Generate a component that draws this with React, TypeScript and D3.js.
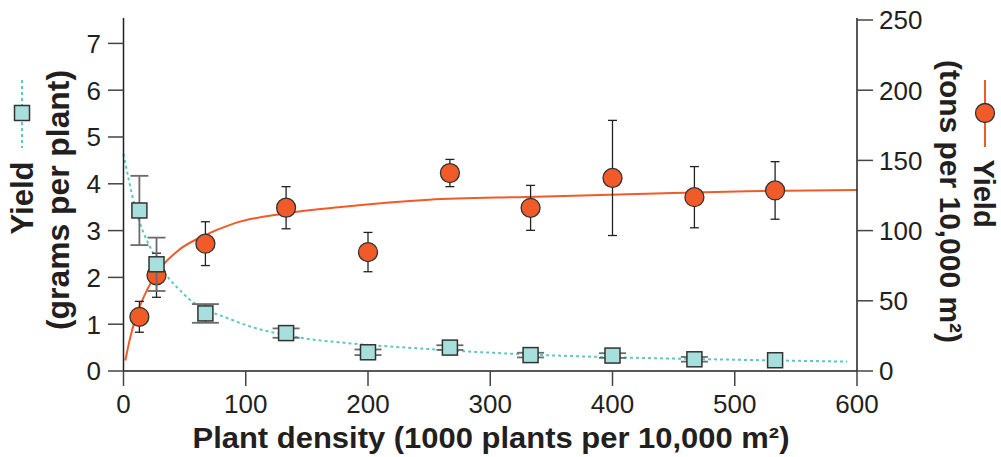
import React from "react";
import * as d3 from "d3";

// measured plant density (1000 plants per 10,000 m²)
const DENSITY = [13, 27, 67, 133, 200, 267, 333, 400, 467, 533];
// yield per plant (grams) and its error
const GRAMS = [3.43, 2.28, 1.23, 0.81, 0.4, 0.5, 0.34, 0.33, 0.25, 0.23];
const GRAMS_ERR = [0.74, 0.57, 0.2, 0.1, 0.06, 0.05, 0.05, 0.05, 0.05, 0];
// yield per area (tons per 10,000 m²) and its error
const TONS = [38.6, 68.2, 90.7, 116.3, 84.7, 141.0, 116.2, 137.5, 123.8, 128.6];
const TONS_ERR = [11, 15.7, 15.6, 15, 14, 9.7, 16, 41, 21.8, 20.5];

// fitted curves
const FIT_GRAMS_X = [0, 9, 26, 49, 90, 145, 186, 243, 325, 406, 482, 592];
const FIT_GRAMS_Y = [4.64, 3.55, 2.43, 1.65, 1.08, 0.71, 0.59, 0.48, 0.36, 0.29, 0.25, 0.2];
const FIT_TONS_X = [1.5, 5, 10, 20, 30, 45, 65, 90, 130, 180, 250, 330, 420, 510, 600];
const FIT_TONS_Y = [7.5, 22, 38, 59, 73, 86, 96, 105, 112, 117, 122, 124, 126, 128, 129];

const X_TICKS = [0, 100, 200, 300, 400, 500, 600];
const LEFT_TICKS = [0, 1, 2, 3, 4, 5, 6, 7];
const RIGHT_TICKS = [0, 50, 100, 150, 200, 250];

const ORANGE = "#F15A29";
const TEAL_FILL = "#A6DFDC";
const TEAL_LINE = "#5CC8C2";
const INK = "#231f20";
const FONT = "'Liberation Sans', Arial, Helvetica, sans-serif";

const App = () => {
  const x = d3.scaleLinear().domain([0, 600]).range([123.5, 857]);
  const yL = d3.scaleLinear().domain([0, 7.5]).range([371, 20]);
  const yR = d3.scaleLinear().domain([0, 250]).range([371, 20]);

  const gramsLine = d3
    .line<number>()
    .x((_, i) => x(FIT_GRAMS_X[i]))
    .y((d) => yL(d))
    .curve(d3.curveMonotoneX);
  const tonsLine = d3
    .line<number>()
    .x((_, i) => x(FIT_TONS_X[i]))
    .y((d) => yR(d))
    .curve(d3.curveMonotoneX);

  const sq = 15;

  return (
    <svg
      width={1001}
      height={457}
      style={{ position: "absolute", left: 0, top: 0, background: "#fff" }}
      fontFamily={FONT}
    >
      {/* fit lines */}
      <path
        d={gramsLine(FIT_GRAMS_Y) || ""}
        fill="none"
        stroke={TEAL_LINE}
        strokeWidth={2}
        strokeDasharray="3,3"
      />
      <path d={tonsLine(FIT_TONS_Y) || ""} fill="none" stroke={ORANGE} strokeWidth={2} />

      {/* tons series */}
      {DENSITY.map((d, i) => {
        const cx = x(d);
        const top = yR(TONS[i] + TONS_ERR[i]);
        const bot = yR(TONS[i] - TONS_ERR[i]);
        return (
          <g key={"t" + i}>
            <line x1={cx} x2={cx} y1={top} y2={bot} stroke="#222" strokeWidth={1.3} />
            <line x1={cx - 4.5} x2={cx + 4.5} y1={top} y2={top} stroke="#222" strokeWidth={1.3} />
            <line x1={cx - 4.5} x2={cx + 4.5} y1={bot} y2={bot} stroke="#222" strokeWidth={1.3} />
            <circle cx={cx} cy={yR(TONS[i])} r={9.5} fill={ORANGE} stroke="#333" strokeWidth={1.3} />
          </g>
        );
      })}

      {/* grams series */}
      {DENSITY.map((d, i) => {
        const cx = x(d);
        const top = yL(GRAMS[i] + GRAMS_ERR[i]);
        const bot = yL(GRAMS[i] - GRAMS_ERR[i]);
        const half = bot - top > 24 ? 9 : 13.5;
        return (
          <g key={"g" + i}>
            {GRAMS_ERR[i] > 0 && (
              <g stroke="#6b6b6b" strokeWidth={1.8}>
                <line x1={cx} x2={cx} y1={top} y2={bot} />
                <line x1={cx - half} x2={cx + half} y1={top} y2={top} />
                <line x1={cx - half} x2={cx + half} y1={bot} y2={bot} />
              </g>
            )}
            <rect
              x={cx - sq / 2}
              y={yL(GRAMS[i]) - sq / 2}
              width={sq}
              height={sq}
              fill={TEAL_FILL}
              stroke="#333"
              strokeWidth={1.5}
            />
          </g>
        );
      })}

      {/* axes */}
      <g stroke={INK} strokeWidth={1.5}>
        <line x1={123.5} x2={123.5} y1={18} y2={371} />
        <line x1={857} x2={857} y1={18} y2={371} />
        <line x1={123.5} x2={857} y1={371} y2={371} />
      </g>
      {LEFT_TICKS.map((t) => (
        <g key={"l" + t}>
          <line x1={108} x2={123.5} y1={yL(t)} y2={yL(t)} stroke="#444" strokeWidth={1.5} />
          <text x={101} y={yL(t)} dy="0.36em" textAnchor="end" fontSize={26} fill={INK}>
            {t}
          </text>
        </g>
      ))}
      {RIGHT_TICKS.map((t) => (
        <g key={"r" + t}>
          <line x1={857} x2={873} y1={yR(t)} y2={yR(t)} stroke="#444" strokeWidth={1.5} />
          <text x={879} y={yR(t)} dy="0.36em" textAnchor="start" fontSize={26} fill={INK}>
            {t}
          </text>
        </g>
      ))}
      {X_TICKS.map((t) => (
        <g key={"x" + t}>
          <line x1={x(t)} x2={x(t)} y1={371} y2={386} stroke="#444" strokeWidth={1.5} />
          <text x={x(t)} y={413} textAnchor="middle" fontSize={26} fill={INK}>
            {t}
          </text>
        </g>
      ))}

      {/* axis titles */}
      <text
        x={491}
        y={448}
        textAnchor="middle"
        fontSize={29}
        fontWeight="bold"
        fill={INK}
        textLength={597}
        lengthAdjust="spacingAndGlyphs"
      >
        Plant density (1000 plants per 10,000 m²)
      </text>

      <text
        transform="translate(33,198) rotate(-90)"
        textAnchor="middle"
        fontSize={31}
        fontWeight="bold"
        fill={INK}
      >
        Yield
      </text>
      <text
        transform="translate(68.5,200) rotate(-90)"
        textAnchor="middle"
        fontSize={31}
        fontWeight="bold"
        fill={INK}
        textLength={260}
        lengthAdjust="spacingAndGlyphs"
      >
        (grams per plant)
      </text>
      <line x1={22} x2={22} y1={80} y2={148} stroke={TEAL_LINE} strokeWidth={2} strokeDasharray="3,3" />
      <rect x={14.5} y={105.5} width={15} height={15} fill={TEAL_FILL} stroke="#333" strokeWidth={1.5} />

      <text
        transform="translate(974,193.5) rotate(90)"
        textAnchor="middle"
        fontSize={29}
        fontWeight="bold"
        fill={INK}
      >
        Yield
      </text>
      <text
        transform="translate(940,201.5) rotate(90)"
        textAnchor="middle"
        fontSize={30}
        fontWeight="bold"
        fill={INK}
        textLength={283}
        lengthAdjust="spacingAndGlyphs"
      >
        (tons per 10,000 m²)
      </text>
      <line x1={985} x2={985} y1={80} y2={147} stroke={ORANGE} strokeWidth={2} />
      <circle cx={985} cy={113} r={9.5} fill={ORANGE} stroke="#333" strokeWidth={1.3} />
    </svg>
  );
};

export default App;
